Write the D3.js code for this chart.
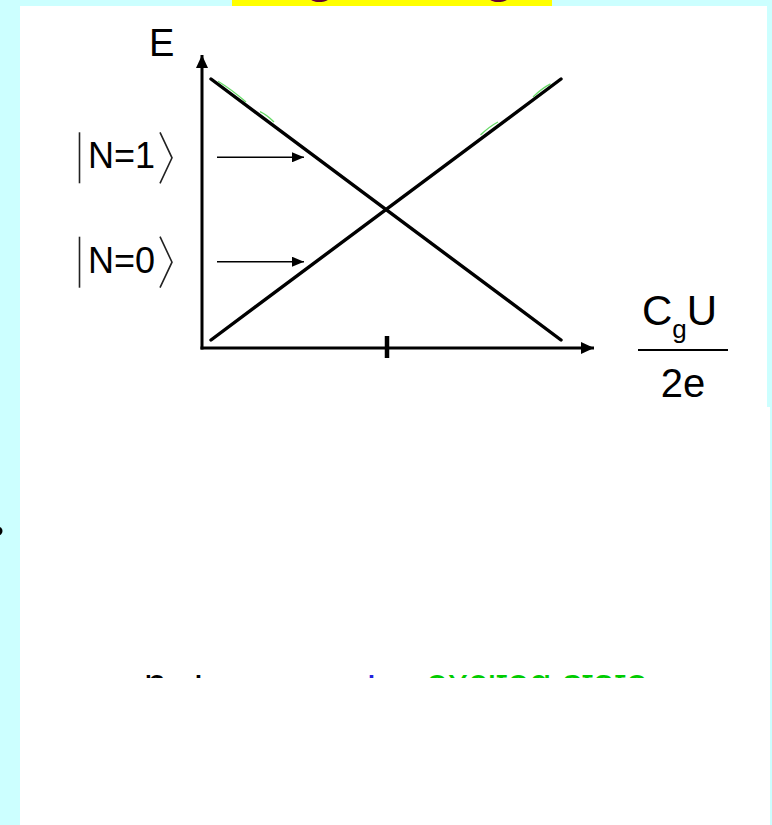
<!DOCTYPE html>
<html>
<head>
<meta charset="utf-8">
<script src="https://cdn.jsdelivr.net/npm/d3@7"></script>
<style>
  html, body { margin: 0; padding: 0; background: #ccffff; }
  svg { display: block; }
</style>
</head>
<body>
<svg id="chart" width="772" height="825"></svg>
<script>
// Reduced gate charge C_g U / 2e (x) and electrostatic energy of each charge state (E)
const gateCharge = [0, 1];
const energyN0 = [0, 1];
const energyN1 = [1, 0];
const stateLabels = ["N=1", "N=0"];
const stateArrowEnergy = [0.70, 0.30];
const xTicks = [0.5];

const svg = d3.select("#chart");
const W = 772, H = 825;
const FONT = "'Liberation Sans', Arial, sans-serif";

// slide background panels
svg.append("rect").attr("x", 0).attr("y", 0).attr("width", W).attr("height", H).attr("fill", "#ccffff");
svg.append("rect").attr("x", 20).attr("y", 6).attr("width", 747).attr("height", 402).attr("fill", "#ffffff");
svg.append("rect").attr("x", 20).attr("y", 407).attr("width", 750).attr("height", 418).attr("fill", "#ffffff");

// title banner (only its lower edge is in view)
const defs = svg.append("defs");
defs.append("clipPath").attr("id", "titleClip")
  .append("rect").attr("x", 232).attr("y", 0).attr("width", 320).attr("height", 6);
svg.append("rect").attr("x", 232).attr("y", 0).attr("width", 320).attr("height", 6).attr("fill", "#ffff00");
const titleG = svg.append("g").attr("clip-path", "url(#titleClip)");
[320, 499].forEach(cx => {
  titleG.append("text").attr("x", cx).attr("y", -7).attr("text-anchor", "middle")
    .attr("font-family", "'Liberation Serif', 'Times New Roman', serif").attr("font-weight", "bold")
    .attr("font-size", 44).attr("fill", "#660033").text("g");
});

// scales
const x = d3.scaleLinear().domain([0, 1]).range([211, 561]);
const y = d3.scaleLinear().domain([0, 1]).range([340, 79]);

const axisX0 = 202, axisY0 = 348;

// arrow markers
function marker(id, w, h) {
  defs.append("marker").attr("id", id)
    .attr("viewBox", `0 ${-h} ${w} ${2 * h}`)
    .attr("refX", w).attr("refY", 0)
    .attr("markerUnits", "userSpaceOnUse")
    .attr("markerWidth", w).attr("markerHeight", 2 * h)
    .attr("orient", "auto")
    .append("path").attr("d", `M0,${-h}L${w},0L0,${h}Z`).attr("fill", "#000");
}
marker("axisHead", 13, 6);
marker("smallHead", 12, 5);

// axes
svg.append("line").attr("x1", axisX0).attr("y1", axisY0 + 1.5).attr("x2", axisX0).attr("y2", 55)
  .attr("stroke", "#000").attr("stroke-width", 3).attr("marker-end", "url(#axisHead)");
svg.append("line").attr("x1", axisX0 - 1.5).attr("y1", axisY0).attr("x2", 594).attr("y2", axisY0)
  .attr("stroke", "#000").attr("stroke-width", 3).attr("marker-end", "url(#axisHead)");

// tick at half-integer gate charge
svg.selectAll(".tick").data(xTicks).enter().append("line")
  .attr("x1", d => x(d) + 1).attr("x2", d => x(d) + 1)
  .attr("y1", axisY0 - 12).attr("y2", axisY0 + 10)
  .attr("stroke", "#000").attr("stroke-width", 4.5);

// energy branches of the two charge states
const line = d3.line().x(d => x(d[0])).y(d => y(d[1]));
[energyN1, energyN0].forEach(series => {
  svg.append("path").datum(gateCharge.map((g, i) => [g, series[i]]))
    .attr("d", line).attr("fill", "none").attr("stroke", "#000")
    .attr("stroke-width", 3.4).attr("stroke-linecap", "round");
});

// faint green pen strokes along the upper ends of the branches
const penSegs = [
  { s: energyN1, a: 0.02, b: 0.10, off: -3 },
  { s: energyN1, a: 0.14, b: 0.18, off: -4 },
  { s: energyN0, a: 0.92, b: 0.97, off: -3 },
  { s: energyN0, a: 0.77, b: 0.82, off: -4 }
];
penSegs.forEach(p => {
  const f = t => p.s[0] + (p.s[1] - p.s[0]) * t;
  svg.append("path")
    .attr("d", `M${x(p.a)},${y(f(p.a)) + p.off}Q${x((p.a + p.b) / 2)},${y(f((p.a + p.b) / 2)) + p.off - 2} ${x(p.b)},${y(f(p.b)) + p.off}`)
    .attr("fill", "none").attr("stroke", "#33cc33").attr("stroke-width", 1.3).attr("opacity", 0.75);
});

// axis labels
svg.append("text").attr("x", 149).attr("y", 56).attr("font-family", FONT).attr("font-size", 38)
  .attr("fill", "#000").text("E");

const frac = svg.append("g").attr("font-family", FONT).attr("fill", "#000");
const num = frac.append("text").attr("x", 642).attr("y", 325).attr("font-size", 42);
num.append("tspan").text("C");
num.append("tspan").attr("font-size", 26).attr("dy", 13).text("g");
num.append("tspan").attr("dy", -13).text("U");
frac.append("line").attr("x1", 638).attr("x2", 728).attr("y1", 350).attr("y2", 350)
  .attr("stroke", "#000").attr("stroke-width", 2);
frac.append("text").attr("x", 683).attr("y", 397).attr("text-anchor", "middle").attr("font-size", 40).text("2e");

// state labels |N⟩ with arrows pointing at their branches
stateLabels.forEach((lab, i) => {
  const yy = y(stateArrowEnergy[i]);
  const base = yy + 11;
  const g = svg.append("g");
  g.append("text").attr("x", 88).attr("y", base).attr("font-family", FONT).attr("font-size", 36)
    .attr("fill", "#000").text(lab);
  g.append("line").attr("x1", 79.5).attr("x2", 79.5).attr("y1", base - 36).attr("y2", base + 15)
    .attr("stroke", "#222").attr("stroke-width", 1.6);
  g.append("path").attr("d", `M160,${base - 36}L172,${base - 10.5}L160,${base + 15}`)
    .attr("fill", "none").attr("stroke", "#222").attr("stroke-width", 1.6);
  g.append("line").attr("x1", 217).attr("x2", 304).attr("y1", yy).attr("y2", yy)
    .attr("stroke", "#000").attr("stroke-width", 1.6).attr("marker-end", "url(#smallHead)");
});

// partly hidden bullet on the left margin
svg.append("circle").attr("cx", -2).attr("cy", 531).attr("r", 4.5).attr("fill", "#000");

// text line below the chart, visible only through a narrow slit
defs.append("clipPath").attr("id", "slit")
  .append("rect").attr("x", 20).attr("y", 675).attr("width", 750).attr("height", 3);
const slit = svg.append("g").attr("clip-path", "url(#slit)").attr("font-family", FONT).attr("font-size", 40);
slit.append("text").attr("x", 144).attr("y", 697).attr("fill", "#000").text("n");
slit.append("text").attr("x", 194).attr("y", 697).attr("fill", "#000").text("i");
slit.append("text").attr("x", 367).attr("y", 697).attr("fill", "#2222dd").text("i");
slit.append("text").attr("x", 426).attr("y", 697).attr("fill", "#00cc00")
  .attr("textLength", 222).text("excited state");
</script>
</body>
</html>
